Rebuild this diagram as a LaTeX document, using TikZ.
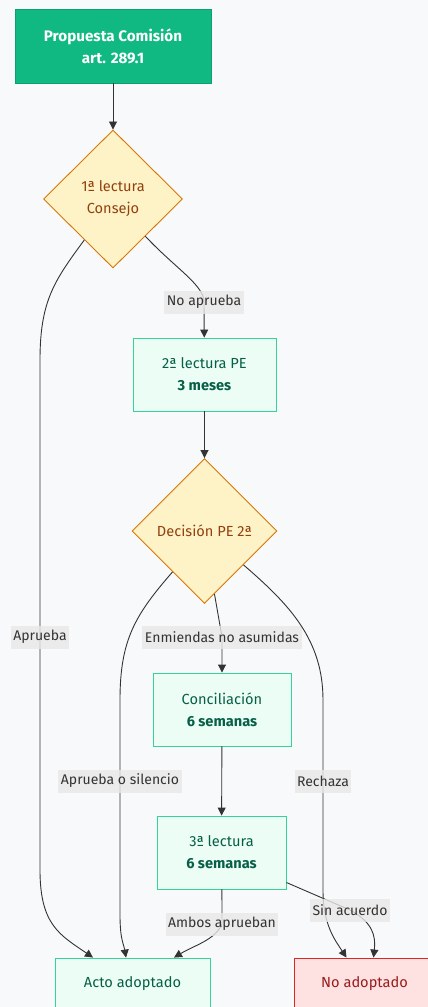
\documentclass[tikz,border=0pt]{standalone}
\usepackage{fontspec}
\setmainfont{Fira Sans}
\usetikzlibrary{shapes.geometric,arrows.meta}
\definecolor{bg}{HTML}{F8F9FA}
\definecolor{startfill}{HTML}{10B981}
\definecolor{startline}{HTML}{0E9F6E}
\definecolor{decfill}{HTML}{FEF3C7}
\definecolor{decline}{HTML}{D97706}
\definecolor{dectext}{HTML}{92400E}
\definecolor{procfill}{HTML}{ECFDF5}
\definecolor{procline}{HTML}{34D399}
\definecolor{proctext}{HTML}{065F46}
\definecolor{failfill}{HTML}{FEE2E2}
\definecolor{failline}{HTML}{DC2626}
\definecolor{failtext}{HTML}{991B1B}
\definecolor{edgecol}{HTML}{333333}
\definecolor{lblfill}{HTML}{E8E8E8}
\begin{document}
\begin{tikzpicture}[x=1pt, y=-1pt, >={Triangle[length=8pt,width=8pt]},
  txt/.style={font=\fontsize{14.6}{22}\selectfont, align=center, inner sep=0pt},
  box/.style={txt, shape=rectangle, draw=procline, fill=procfill, text=proctext, line width=0.9pt},
  choice/.style={txt, shape=diamond, draw=decline, fill=decfill, text=dectext, line width=0.9pt},
  lbl/.style={font=\fontsize{14}{16}\selectfont, fill=lblfill, fill opacity=0.8, text opacity=1, text=edgecol, inner xsep=2.5pt, inner ysep=0pt, minimum height=23pt},
  flow/.style={->, draw=edgecol, line width=0.9pt}]
\fill[bg] (0,0) rectangle (428,1007);
\useasboundingbox (0,0) rectangle (428,1007);
\node[txt, shape=rectangle, draw=startline, fill=startfill, text=white, line width=0.9pt, minimum width=196pt, minimum height=74pt, font=\fontsize{15.2}{22}\selectfont\bfseries] (prop) at (113,46) {Propuesta Comisión\\art. 289.1};
\node[choice, minimum width=139pt, minimum height=138pt] (lec1) at (113,199) {1ª lectura\\Consejo};
\node[box, minimum width=143pt, minimum height=73pt] (lec2) at (204.5,374.5) {2ª lectura PE\\\textbf{3 meses}};
\node[choice, minimum width=145pt, minimum height=145pt] (dec2) at (204.5,531) {Decisión PE 2ª};
\node[box, minimum width=138pt, minimum height=73pt] (conc) at (222,709.5) {Conciliación\\\textbf{6 semanas}};
\node[box, minimum width=129pt, minimum height=73pt] (lec3) at (221.5,852.5) {3ª lectura\\\textbf{6 semanas}};
\node[box, minimum width=155pt, minimum height=52pt] (acto) at (132.5,984) {Acto adoptado};
\node[box, draw=failline, fill=failfill, text=failtext, minimum width=141pt, minimum height=52pt] (noad) at (364.5,984) {No adoptado};
% flujo principal
\draw[flow] (prop) -- (lec1);
\draw[flow] (lec1.-125) .. controls (55,280) and (40,300) .. (40,360) -- (40,637) node[lbl]{Aprueba} -- (40,870) .. controls (40,925) and (60,935) .. ([xshift=-39.5pt]acto.north);
\draw[flow] (lec1.-49) .. controls (175,268) and (204,285) .. (204,302) node[lbl]{No aprueba} -- (lec2);
\draw[flow] (lec2) -- (dec2);
\draw[flow] (dec2.-128) .. controls (135,615) and (120,640) .. (120,700) -- (120,781) node[lbl]{Aprueba o silencio} -- (120,915) .. controls (120,940) and (124,945) .. ([xshift=-6.5pt]acto.north);
\draw[flow] (dec2.-81) .. controls (219,615) .. (222,637) node[lbl]{Enmiendas no asumidas} -- (conc);
\draw[flow] (dec2.-41) .. controls (290,605) and (323,640) .. (323,700) -- (323,781) node[lbl]{Rechaza} -- (323,890) .. controls (323,925) and (335,940) .. ([xshift=-18pt]noad.north);
\draw[flow] (conc) -- (lec3);
% salida de la 3a lectura
\draw[flow] (lec3) .. controls (222,905) .. (222,924) node[lbl]{Ambos aprueban} .. controls (215,940) and (195,945) .. ([xshift=41.5pt]acto.north);
\draw[flow] ([yshift=-30pt]lec3.east) -- (350,910) node[lbl]{Sin acuerdo} .. controls (372,922) and (376,935) .. ([xshift=9pt]noad.north);
\end{tikzpicture}
\end{document}
